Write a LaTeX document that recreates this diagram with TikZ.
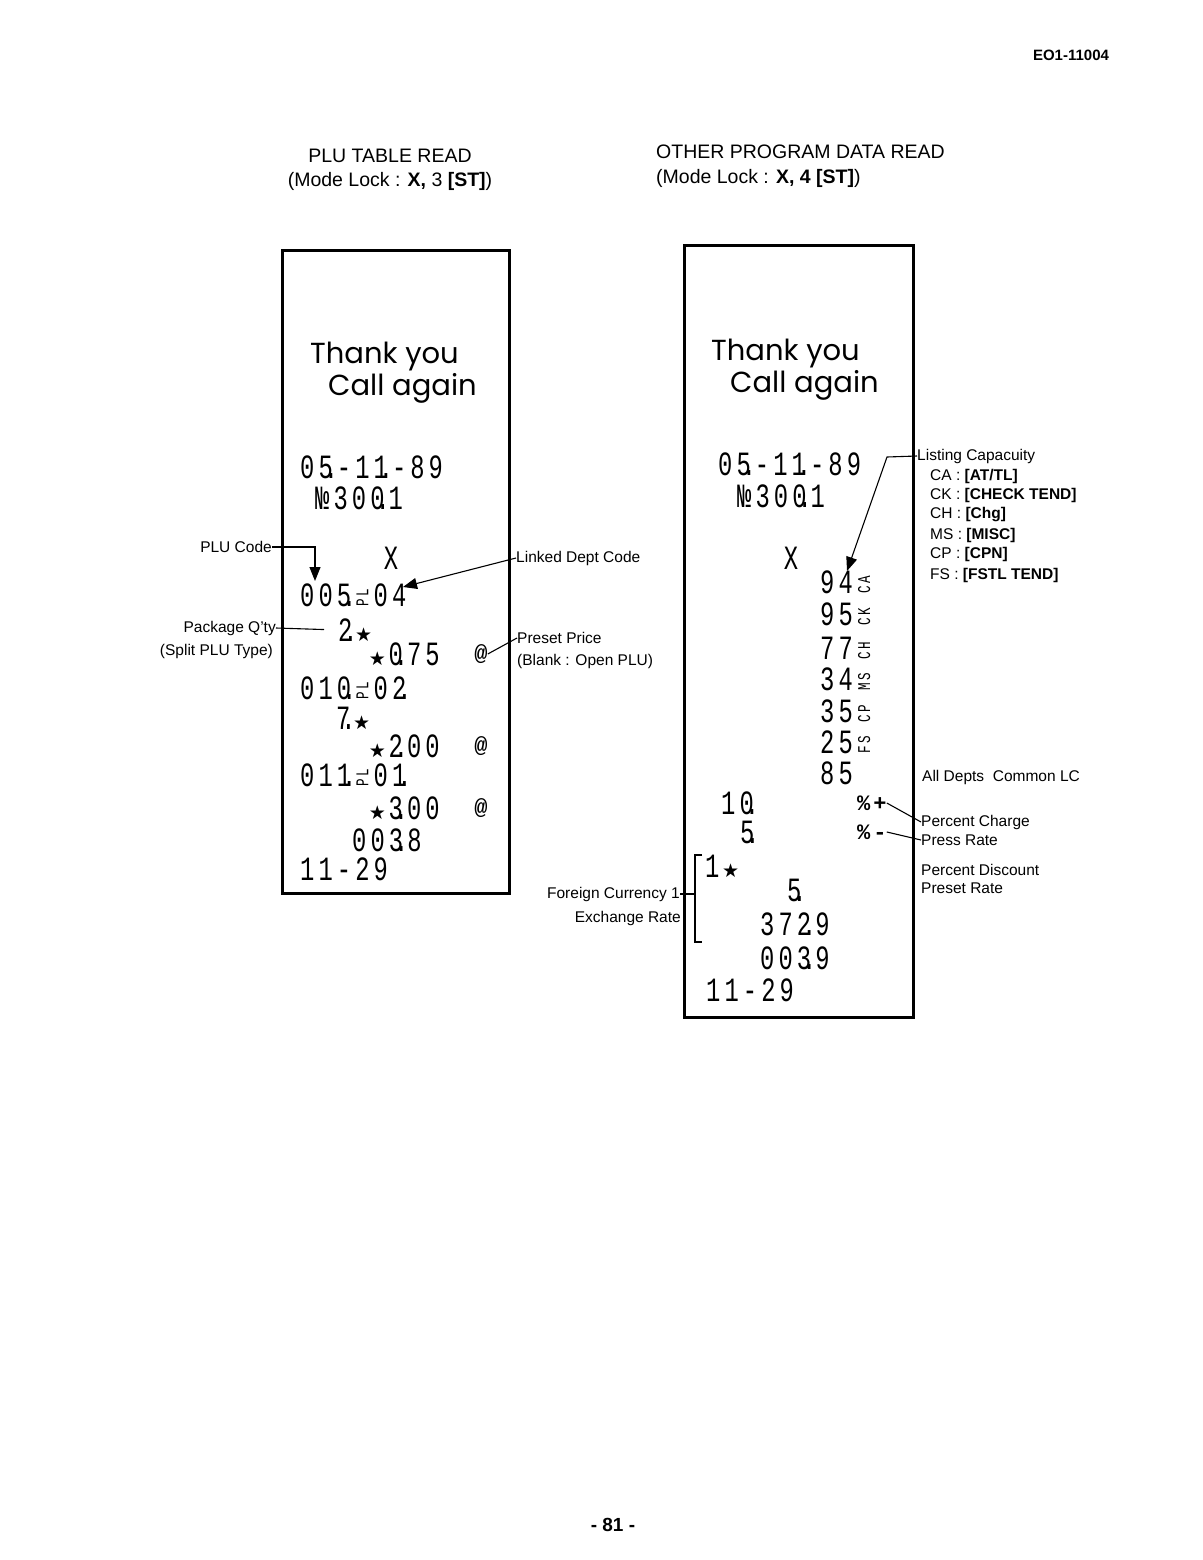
\documentclass[tikz,border=0pt]{standalone}
\usepackage{fontspec}
\usepackage{graphicx}
\setmainfont{Liberation Sans}
\newfontfamily\rcptfont[FakeStretch=0.7, LetterSpace=12]{Liberation Mono}
\newfontfamily\signfont{Liberation Mono}
\newfontfamily\thankfont{Poppins}
\newfontfamily\symfont{DejaVu Sans}
\usetikzlibrary{positioning, arrows.meta}

% printer marks and symbols
\newcommand{\rgap}{\kern4.1pt}
\newcommand{\tailmk}{\makebox[0pt][l]{\kern-9pt.}\rgap}
\newcommand{\rstar}{\makebox[14.3pt]{\symfont\fontsize{19}{19}\selectfont ★}\rgap}
\newcommand{\rotcode}[1]{\makebox[14.3pt]{\rotatebox{90}{\fontsize{18}{18}\selectfont #1}}\rgap}

\begin{document}
\begin{tikzpicture}[x=1pt, y=-1pt,
          rcptbox/.style={draw, line width=3pt, inner sep=0pt},
          rline/.style={font={\rcptfont\fontsize{34}{34}\selectfont},
                        anchor=west, inner sep=0pt},
          rsign/.style={font={\signfont\bfseries\fontsize{22}{22}\selectfont},
                        anchor=west, inner sep=0pt},
          thanks/.style={font={\thankfont\fontsize{29}{29}\selectfont},
                         anchor=west, inner sep=0pt},
          hdr/.style={font=\fontsize{19.5}{19.5}\selectfont, inner sep=0pt},
          lbl/.style={font=\fontsize{15.5}{15.5}\selectfont, inner sep=0pt},
          lead/.style={line width=1.1pt},
          arr/.style={line width=1.1pt, -{Triangle[length=14pt, width=11pt]}}]
  \useasboundingbox (0,0) rectangle (1202,1560);

  % page header and footer
  \node[font=\bfseries\fontsize{15}{15}\selectfont, inner sep=0pt] (docno) at (1071,55) {EO1-11004};
  \node[font=\bfseries\fontsize{19}{19}\selectfont, inner sep=0pt] (pageno) at (613,1525) {- 81 -};

  \node[hdr] (hplu) at (390,156) {PLU TABLE READ};
  \node[hdr] (hmode1) at (390,181) {(Mode Lock : \textbf{X,} 3 \textbf{[ST]})};
  \node[hdr, anchor=west] (hother) at (656,152) {OTHER PROGRAM DATA READ};
  \node[hdr, anchor=west] (hmode2) at (656,178) {(Mode Lock : \textbf{X, 4 [ST]})};

  % left receipt
  \node[rcptbox, minimum width=227pt, minimum height=643pt] (leftrcpt) at (395.5,571.5) {};
  \node[thanks] (lthank) at (310,357) {Thank you};
  \node[thanks] (lcall) at (328,388) {Call again};
  \node[rline] (l1) at (300,467) {05\tailmk-11\tailmk-89};
  \node[rline] (l2) at (315,498) {№300\tailmk1};
  \node[rline, anchor=center] (l3) at (391,558) {X};
  \node[rline] (l4) at (300,595) {005\tailmk\rotcode{PL}04};
  \node[rline] (l5) at (338,630) {2\tailmk\rstar};
  \node[rline] (l6) at (370,654) {\rstar0\tailmk75};
  \node[rsign, anchor=center] (at1) at (481,654) {@};
  \node[rline] (l7) at (300,688) {010\tailmk\rotcode{PL}02\tailmk};
  \node[rline] (l8) at (336,718) {7\tailmk\rstar};
  \node[rline] (l9) at (370,746) {\rstar2\tailmk00};
  \node[rsign, anchor=center] (at2) at (481,746) {@};
  \node[rline] (l10) at (300,775) {011\tailmk\rotcode{PL}01\tailmk};
  \node[rline] (l11) at (370,808) {\rstar3\tailmk00};
  \node[rsign, anchor=center] (at3) at (481,808) {@};
  \node[rline] (l12) at (352,840) {003\tailmk8};
  \node[rline] (l13) at (300,869) {11-29};

  % left labels
  \node[lbl, anchor=east] (plucode) at (272,547) {PLU Code};
  \node[lbl, anchor=east] (pkgqty) at (276,628) {Package Q'ty};
  \node[lbl, anchor=east] (splitplu) at (273,651) {(Split PLU Type)};
  \node[lbl, anchor=west] (linked) at (516,558) {Linked Dept Code};
  \node[lbl, anchor=west] (preset) at (517,638) {Preset Price};
  \node[lbl, anchor=west] (blank) at (517,661) {(Blank : Open PLU)};

  \coordinate (pluarr) at (315,581);
  \coordinate (ldarr) at (403,587);
  \draw[arr] (plucode.east) -| (pluarr);
  \draw[lead, shorten >=14pt] (pkgqty.east) -- (l5.west);
  \draw[arr] (linked.west) -- (ldarr);
  \draw[lead] (preset.west) -- (at1.east);

  % right receipt
  \node[rcptbox, minimum width=229pt, minimum height=772pt] (rightrcpt) at (798.5,631) {};
  \node[thanks] (rthank) at (711,354) {Thank you};
  \node[thanks] (rcall) at (730,385) {Call again};
  \node[rline] (r1) at (718,464) {05\tailmk-11\tailmk-89};
  \node[rline] (r2) at (737,496) {№300\tailmk1};
  \node[rline, anchor=center] (r3) at (791,558) {X};
  \node[rline] (r4) at (820,582) {94\rgap\rotcode{CA}};
  \node[rline] (r5) at (820,614) {95\rgap\rotcode{CK}};
  \node[rline] (r6) at (820,648) {77\rgap\rotcode{CH}};
  \node[rline] (r7) at (820,679) {34\rgap\rotcode{MS}};
  \node[rline] (r8) at (820,711) {35\rgap\rotcode{CP}};
  \node[rline] (r9) at (820,742) {25\rgap\rotcode{FS}};
  \node[rline] (r10) at (820,773) {85};
  \node[rline] (r11) at (721,803) {10\tailmk};
  \node[rsign] (pcplus) at (857,803) {\%\kern3pt+};
  \node[rline] (r12) at (740,832) {5\tailmk};
  \node[rsign] (pcminus) at (857,832) {\%\kern3pt-};
  \node[rline] (r13) at (705,866) {1\rgap\rstar};
  \node[rline] (r14) at (787,890) {5\tailmk};
  \node[rline] (r15) at (760,924) {372\tailmk9};
  \node[rline] (r16) at (760,958) {003\tailmk9};
  \node[rline] (r17) at (706,990) {11-29};

  % bracket round the foreign currency lines
  \draw[lead] (702,855) -- (695,855) -- (695,942) -- (702,942);

  % right labels
  \node[lbl, anchor=west] (listcap) at (917,456) {Listing Capacuity};
  \node[lbl, anchor=west] (lcca) at (930,476) {CA : \textbf{[AT/TL]}};
  \node[lbl, anchor=west] (lcck) at (930,495) {CK : \textbf{[CHECK TEND]}};
  \node[lbl, anchor=west] (lcch) at (930,515) {CH : \textbf{[Chg]}};
  \node[lbl, anchor=west] (lcms) at (930,535) {MS : \textbf{[MISC]}};
  \node[lbl, anchor=west] (lccp) at (930,554) {CP : \textbf{[CPN]}};
  \node[lbl, anchor=west] (lcfs) at (930,575) {FS : \textbf{[FSTL TEND]}};
  \node[lbl, anchor=west] (alldepts) at (922,777) {All Depts\ \ Common LC};
  \node[lbl, anchor=west] (pcharge) at (921,822) {Percent Charge};
  \node[lbl, anchor=west] (press) at (921,840) {Press Rate};
  \node[lbl, anchor=west] (pdisc) at (921,870) {Percent Discount};
  \node[lbl, anchor=west] (prate) at (921,888) {Preset Rate};
  \node[lbl, anchor=east] (forex) at (680,894) {Foreign Currency 1};
  \node[lbl, anchor=east] (exch) at (681,918) {Exchange Rate};

  \coordinate (lcbend) at (887,457);
  \coordinate (lcarr) at (847,571);
  \coordinate (fxbkt) at (695,894);
  \draw[arr] (listcap.west) -- (lcbend) -- (lcarr);
  \draw[lead] (pcplus.east) -- (pcharge.west);
  \draw[lead] (pcminus.east) -- (press.west);
  \draw[lead] (forex.east) -- (fxbkt);
\end{tikzpicture}
\end{document}
